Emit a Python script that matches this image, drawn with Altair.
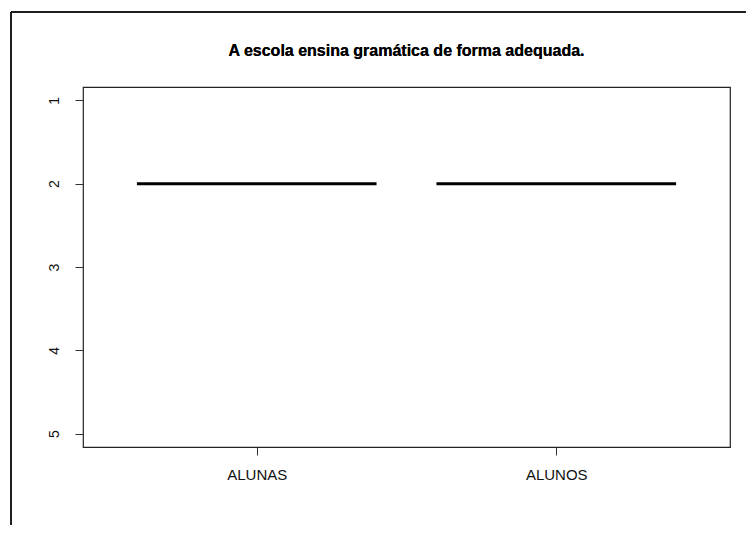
import altair as alt
import pandas as pd

groups = ["ALUNAS", "ALUNOS"]
group_pos = [1, 2]
medians = [2, 2]
y_ticks = [1, 2, 3, 4, 5]
title = "A escola ensina gramática de forma adequada."

half = 0.4
df = pd.DataFrame({
    "grupo": groups,
    "pos": group_pos,
    "x0": [p - half for p in group_pos],
    "x1": [p + half for p in group_pos],
    "mediana": medians,
})

label_expr = "datum.value == 1 ? 'ALUNAS' : (datum.value == 2 ? 'ALUNOS' : '')"

x_scale = alt.Scale(domain=[0.42, 2.58], nice=False, zero=False)
y_scale = alt.Scale(domain=[0.84, 5.16], nice=False, zero=False, reverse=True)

medline = alt.Chart(df).mark_rule(color="black", strokeWidth=3).encode(
    x=alt.X("x0:Q", scale=x_scale,
            axis=alt.Axis(values=group_pos, labelExpr=label_expr, title=None,
                          domain=False, grid=False, tickColor="#333", tickSize=8,
                          labelFont="Liberation Sans", labelFontSize=15,
                          labelColor="#111", labelPadding=12)),
    x2="x1:Q",
    y=alt.Y("mediana:Q", scale=y_scale,
            axis=alt.Axis(values=y_ticks, title=None, domain=False, grid=False,
                          tickColor="#333", tickSize=8, labelAngle=270,
                          labelAlign="center", labelBaseline="bottom",
                          labelFont="Liberation Sans", labelFontSize=14,
                          labelColor="#111", labelPadding=14)),
)

title_mark = alt.Chart(df).mark_text(
    text=title, font="Liberation Sans", fontSize=16, fontWeight="bold",
    color="black", align="center", baseline="middle", clip=False
).encode(x=alt.value(323.5), y=alt.value(-36))

frame_top = alt.Chart(df).mark_rule(color="#111", strokeWidth=1.5, clip=False).encode(
    x=alt.value(-72), x2=alt.value(680), y=alt.value(-75)
)
frame_left = alt.Chart(df).mark_rule(color="#111", strokeWidth=1.5, clip=False).encode(
    x=alt.value(-72), y=alt.value(-75), y2=alt.value(450)
)

chart = alt.layer(medline, title_mark, frame_top, frame_left).properties(
    width=647,
    height=360,
    background="white",
    padding={"left": 75, "top": 79, "right": 16, "bottom": 78},
    autosize=alt.AutoSizeParams(type="none"),
).configure_view(stroke="#222", strokeWidth=1.2)

chart.save("out.html", embed_options={"renderer": "svg", "actions": False})
